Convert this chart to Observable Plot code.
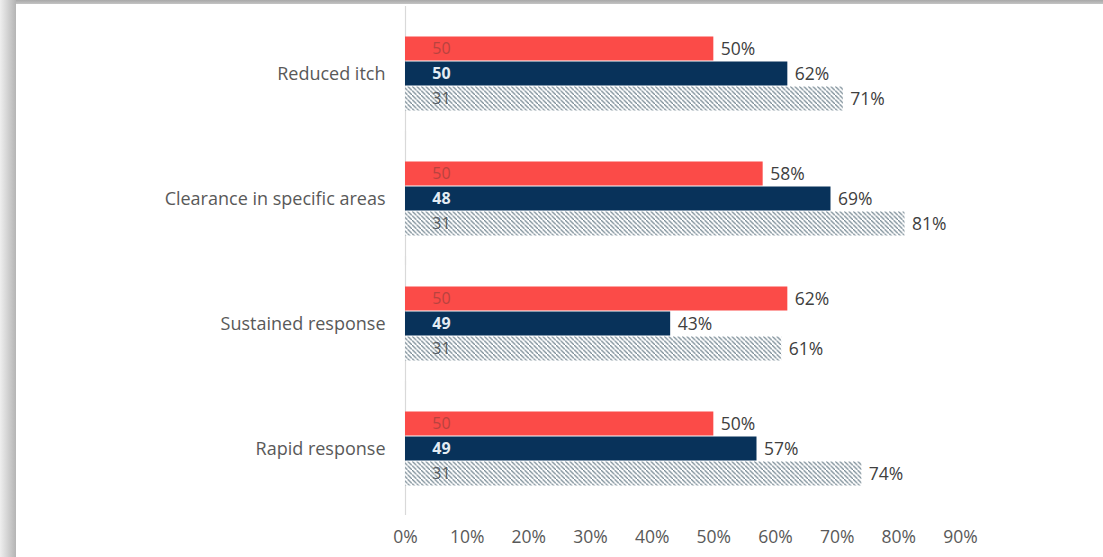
<!DOCTYPE html>
<html>
<head>
<meta charset="utf-8">
<script src="https://cdn.jsdelivr.net/npm/d3@7"></script>
<script src="https://cdn.jsdelivr.net/npm/@observablehq/plot@0.6"></script>
<style>
  html, body { margin: 0; padding: 0; background: #ffffff; width: 1103px; height: 557px; overflow: hidden; }
  #shade { position: absolute; left: 0; top: 0; width: 1103px; height: 557px;
    background: linear-gradient(to right, #efefef 0px, #b4b4b4 16px, rgba(0,0,0,0) 16px),
                linear-gradient(to bottom, #a8a8a8 0px, #c4c4c4 4px, #ffffff 4px); }
  #panel { position: absolute; left: 16px; top: 4px; width: 1087px; height: 553px; background: #ffffff; }
</style>
</head>
<body>
<div id="shade"></div>
<div id="panel"></div>
<script>
const categories = ["Reduced itch", "Clearance in specific areas", "Sustained response", "Rapid response"];
const series = ["Series A", "Series B", "Series C"];
const pctA = [50, 58, 62, 50];
const pctB = [62, 69, 43, 57];
const pctC = [71, 81, 61, 74];
const nA = [50, 50, 50, 50];
const nB = [50, 48, 49, 49];
const nC = [31, 31, 31, 31];
const xTicks = [0, 10, 20, 30, 40, 50, 60, 70, 80, 90];

const pcts = [pctA, pctB, pctC];
const ns = [nA, nB, nC];
const rows = [];
categories.forEach((c, i) => {
  series.forEach((s, j) => {
    rows.push({category: c, series: s, pct: pcts[j][i], n: ns[j][i]});
  });
});

const fills = {"Series A": "#fb4b48", "Series B": "#08325a", "Series C": "url(#hatch)"};
const nColors = {"Series A": "#b8433f", "Series B": "#e3ecf4", "Series C": "#555a5e"};

const chart = Plot.plot({
  width: 1087,
  height: 553,
  marginLeft: 389,
  marginRight: 143,
  marginTop: 30,
  marginBottom: 70,
  style: {fontFamily: "'Open Sans', sans-serif", fontSize: "17px", color: "#595959", background: "transparent"},
  x: {domain: [0, 90], axis: null},
  y: {domain: series, padding: 0, axis: null},
  fy: {domain: categories, paddingInner: 0.385, paddingOuter: 0, axis: null},
  marks: [
    Plot.ruleX([0], {stroke: "#d9d9d9", strokeWidth: 1.2, insetTop: -29, insetBottom: -28}),
    Plot.barX(rows, {fy: "category", y: "series", x: "pct", fill: d => fills[d.series], insetTop: 0.5, insetBottom: 0.5}),
    Plot.text(rows.filter(d => d.series === "Series A"), {fy: "category", y: "series", x: 0, text: d => String(d.n), dx: 36, fill: d => nColors[d.series], fontSize: 16}),
    Plot.text(rows.filter(d => d.series === "Series B"), {fy: "category", y: "series", x: 0, text: d => String(d.n), dx: 36, fill: d => nColors[d.series], fontSize: 16, fontWeight: "bold"}),
    Plot.text(rows.filter(d => d.series === "Series C"), {fy: "category", y: "series", x: 0, text: d => String(d.n), dx: 36, fill: d => nColors[d.series], fontSize: 16}),
    Plot.text(rows, {fy: "category", y: "series", x: "pct", text: d => d.pct + "%", dx: 7, textAnchor: "start", fill: "#404040", fontSize: 17.5}),
    Plot.axisFy({anchor: "left", tickSize: 0, tickPadding: 20, label: null, fontSize: 18, fill: "#595959"}),
    Plot.axisX({ticks: xTicks, tickFormat: d => d + "%", tickSize: 0, tickPadding: 43, label: null, anchor: "bottom", fontSize: 17.5, fill: "#595959"})
  ]
});

d3.select(chart).insert("defs", ":first-child").html(
  '<pattern id="hatch" patternUnits="userSpaceOnUse" width="4.5" height="4.5">' +
  '<rect width="4.5" height="4.5" fill="#ffffff"/>' +
  '<path d="M-1,-1 L1,1 M0,0 L4.5,4.5 M3.5,3.5 L5.5,5.5" stroke="#71848f" stroke-width="1.2"/>' +
  '</pattern>'
);

document.getElementById("panel").appendChild(chart);
</script>
</body>
</html>
